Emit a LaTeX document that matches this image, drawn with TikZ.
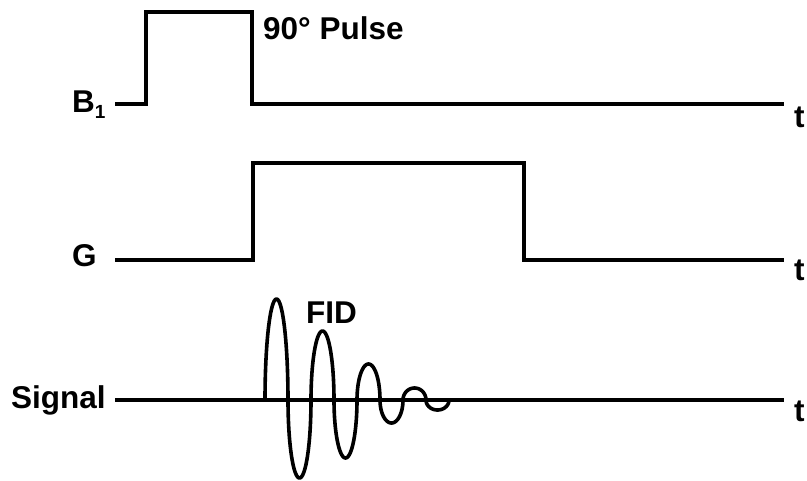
\documentclass[tikz,border=0pt]{standalone}
\usepackage{fontspec}
\setmainfont{Liberation Sans}
\begin{document}
\begin{tikzpicture}[x=1pt,y=-1pt,
  wire/.style={line width=3.6pt, line join=miter},
  wave/.style={line width=3.6pt, line join=round},
  lbl/.style={inner sep=0pt, anchor=base west, font=\fontsize{31.5}{31.5}\selectfont\bfseries}]
\useasboundingbox (0,0) rectangle (807,480);
% coordinates
\coordinate (b1s) at (115,104);
\coordinate (b1a) at (146,104);
\coordinate (b1b) at (146,12);
\coordinate (b1c) at (252,12);
\coordinate (b1d) at (252,104);
\coordinate (b1e) at (784,104);
\coordinate (gs) at (115,260);
\coordinate (ga) at (253,260);
\coordinate (gb) at (253,163);
\coordinate (gc) at (524,163);
\coordinate (gd) at (524,260);
\coordinate (ge) at (784,260);
\coordinate (ss) at (115,400);
\coordinate (se) at (784,400);
% lines
\draw[wire] (b1s) -- (b1a) -- (b1b) -- (b1c) -- (b1d) -- (b1e);
\draw[wire] (gs) -- (ga) -- (gb) -- (gc) -- (gd) -- (ge);
\draw[wire] (ss) -- (se);
% FID wave (half-ellipse lobes)
\foreach \i/\A in {0/101,1/-78,2/69,3/-58,4/36,5/-23,6/12,7/-10}{
  \draw[wave] plot[domain=0:180, samples=40, variable=\t]
    ({265+23*(\i+(1-cos(\t))/2)}, {400-\A*sin(\t)});
}
% labels
\node[lbl] (lb1) at (72,112) {B\raisebox{-6pt}{\fontsize{19}{19}\selectfont 1}};
\node[lbl] (lg) at (72,266) {G};
\node[lbl] (ls) at (11,408) {Signal};
\node[lbl] (t1) at (794,127) {t};
\node[lbl] (t2) at (794,280) {t};
\node[lbl] (t3) at (794,421) {t};
\node[lbl] (pulse) at (263,39) {90° Pulse};
\node[lbl] (fid) at (306,323) {FID};
\end{tikzpicture}
\end{document}
